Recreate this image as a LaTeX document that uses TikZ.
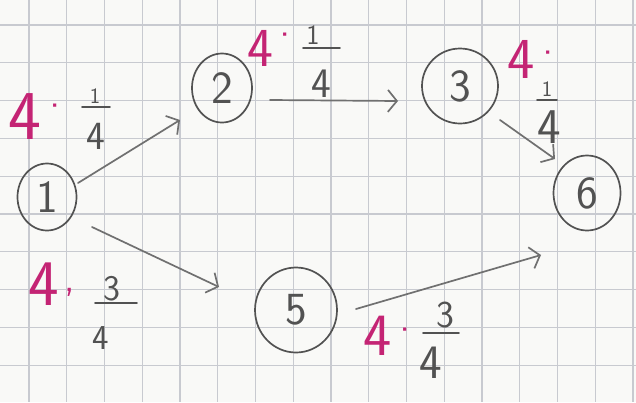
\documentclass[tikz,border=0pt]{standalone}
\usetikzlibrary{shapes.geometric,arrows.meta,calc}
\definecolor{paper}{RGB}{249,249,247}
\definecolor{gridc}{RGB}{200,202,208}
\definecolor{pencil}{RGB}{82,82,82}
\definecolor{pencilarr}{RGB}{112,112,112}
\definecolor{ink}{RGB}{196,36,116}
\tikzset{
  statenode/.style={ellipse,draw=pencil,line width=1.7pt,inner sep=0pt,text=pencil,font=\sffamily\fontsize{46}{46}\selectfont},
  flowarrow/.style={draw=pencilarr,line width=1.7pt,line cap=round,-{Straight Barb[length=9pt,width=22pt,line width=1.7pt]}},
  inkfour/.style={text=ink,inner sep=0pt},
  inkdot/.style={text=ink,inner sep=0pt,anchor=north,font=\sffamily\fontsize{40}{40}\selectfont},
  fracdigit/.style={text=pencil,inner sep=0pt},
  fracbar/.style={draw=pencil,line width=1.6pt,line cap=round},
  gridline/.style={draw=gridc,line width=1.3pt}
}
\newcommand{\fsz}[1]{\sffamily\fontsize{#1}{#1}\selectfont}
\begin{document}
\begin{tikzpicture}[x=1pt,y=-1pt]
\useasboundingbox (0,0) rectangle (636,402);
\fill[paper] (0,0) rectangle (636,402);
\foreach \k in {0,...,16} \draw[gridline] ({29+37.75*\k},0) -- ({29+37.75*\k},402);
\foreach \k in {0,...,9} \draw[gridline] (0,{25+37.8*\k}) -- (636,{25+37.8*\k});

% state nodes
\node[statenode,minimum width=59pt,minimum height=67pt] (n1) at (47,197) {1};
\node[statenode,minimum width=60pt,minimum height=69pt] (n2) at (222,88) {2};
\node[statenode,minimum width=76pt,minimum height=75pt] (n3) at (460,86) {3};
\node[statenode,minimum width=82pt,minimum height=85pt] (n5) at (296,310) {5};
\node[statenode,minimum width=67pt,minimum height=75pt] (n6) at (587,193) {6};

% connectors
\draw[flowarrow] ($(n1)+(31,-14)$) -- ($(n2)+(-42,32)$);
\draw[flowarrow] ($(n2)+(48,12)$) -- ($(n3)+(-62,15)$);
\draw[flowarrow] ($(n3)+(40,34)$) -- ($(n6)+(-32,-34)$);
\draw[flowarrow] ($(n1)+(45,30)$) -- ($(n5)+(-77,-23)$);
\draw[flowarrow] ($(n5)+(60,-1)$) -- ($(n6)+(-46,62)$);

% label A (1 -> 2)
\node[inkfour,font=\fsz{70}] (a4) at (25,117) {4};
\node[inkdot] (adot) at (55,104) {·};
\node[fracdigit,font=\fsz{22}] (anum) at (95,96) {1};
\draw[fracbar] (82,107) -- (110,107);
\node[fracdigit,font=\fsz{40}] (aden) at (96,136) {4};

% label B (2 -> 3)
\node[inkfour,font=\fsz{55}] (b4) at (260,48) {4};
\node[inkdot] (bdot) at (285,33) {·};
\node[fracdigit,font=\fsz{28}] (bnum) at (313,35) {1};
\draw[fracbar] (303,48) -- (340,48);
\node[fracdigit,font=\fsz{42}] (bden) at (321,84) {4};

% label C (3 -> 6)
\node[inkfour,font=\fsz{58}] (c4) at (521,59) {4};
\node[inkdot] (cdot) at (548,51) {·};
\node[fracdigit,font=\fsz{22}] (cnum) at (547,89) {1};
\draw[fracbar] (537,100) -- (557,100);
\node[fracdigit,font=\fsz{50}] (cden) at (549,127) {4};

% label D (1 -> 5)
\node[inkfour,font=\fsz{65}] (d4) at (44,284) {4};
\node[inkdot] (dcomma) at (70,288) {,};
\node[fracdigit,font=\fsz{36}] (dnum) at (112,289) {3};
\draw[fracbar] (95,303) -- (137,303);
\node[fracdigit,font=\fsz{35}] (dden) at (101,338) {4};

% label E (5 -> 6)
\node[inkfour,font=\fsz{60}] (e4) at (378,336) {4};
\node[inkdot] (edot) at (405,328) {·};
\node[fracdigit,font=\fsz{38}] (enum) at (445,315) {3};
\draw[fracbar] (423,333) -- (459,333);
\node[fracdigit,font=\fsz{48}] (eden) at (431,363) {4};
\end{tikzpicture}
\end{document}
